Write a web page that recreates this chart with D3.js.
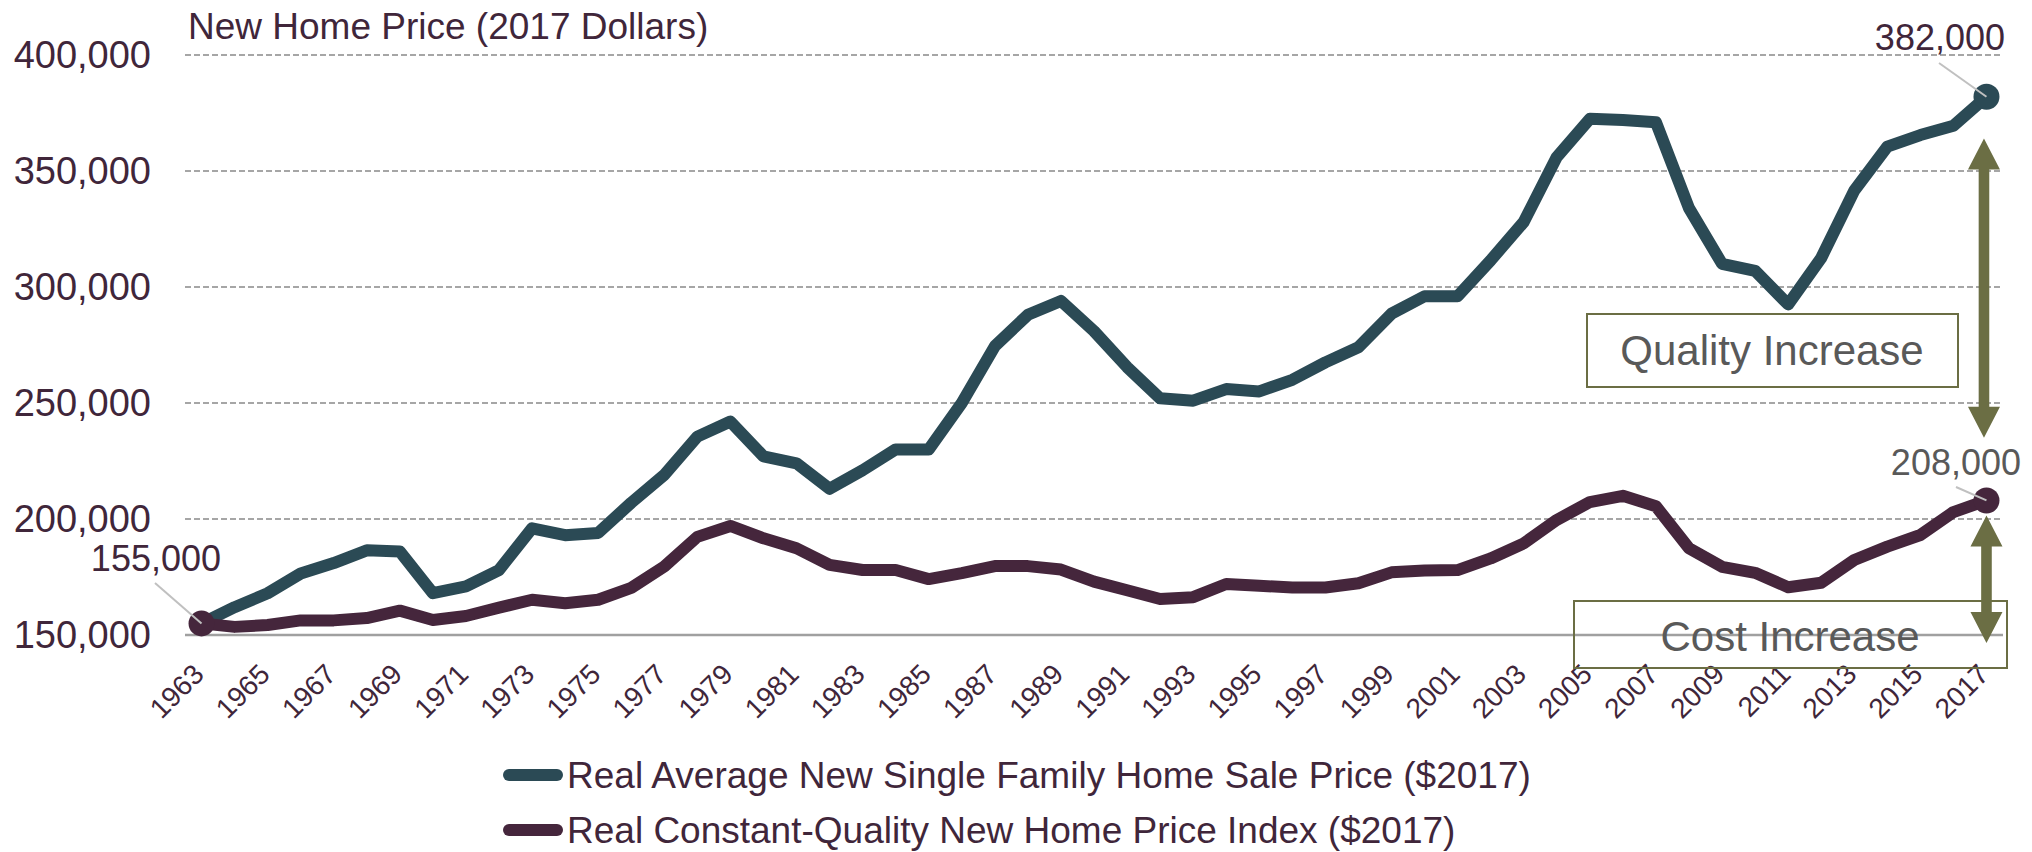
<!DOCTYPE html>
<html>
<head>
<meta charset="utf-8">
<script src="https://cdn.jsdelivr.net/npm/d3@7"></script>
<style>
  html, body { margin: 0; padding: 0; background: #ffffff; }
  svg { display: block; font-family: "Liberation Sans", Arial, sans-serif; }
</style>
</head>
<body>
<svg id="chart" width="2032" height="852"></svg>
<script>
// ---------------- DATA ----------------
const years = [
  "1963","1964","1965","1966","1967","1968","1969","1970","1971","1972",
  "1973","1974","1975","1976","1977","1978","1979","1980","1981","1982",
  "1983","1984","1985","1986","1987","1988","1989","1990","1991","1992",
  "1993","1994","1995","1996","1997","1998","1999","2000","2001","2002",
  "2003","2004","2005","2006","2007","2008","2009","2010","2011","2012",
  "2013","2014","2015","2016","2017"
];
const avgSalePrice = [
  155000,162000,168000,176500,181000,186500,186000,168000,171000,178000,
  196000,193000,194000,207000,219000,235500,242000,227000,224000,213000,
  221000,230000,230000,250000,274500,288000,294000,281000,265500,252000,
  251000,256000,255000,260000,267500,274000,288500,296000,296000,311500,
  328000,356000,372500,372000,371000,334000,310000,307000,292500,312500,
  341500,360500,365500,369500,382000
];
const constQualityIndex = [
  155000,153500,154300,156300,156300,157300,160500,156500,158200,161800,
  165200,163700,165200,170300,179500,192300,197000,191700,187400,180200,
  178000,178000,174100,176700,179700,179700,178200,173000,169300,165500,
  166300,172000,171200,170500,170500,172300,177000,177800,178000,183000,
  189500,199600,207300,210000,205500,187400,179400,176800,170600,172500,
  182300,188100,193100,203000,208000
];
const yTicks = [150000, 200000, 250000, 300000, 350000, 400000];
const seriesNames = [
  "Real Average New Single Family Home Sale Price ($2017)",
  "Real Constant-Quality New Home Price Index ($2017)"
];
const titleText = "New Home Price (2017 Dollars)";
const qualityArrow = [364000, 235000];
const costArrow = [201500, 146500];

// ---------------- STYLE ----------------
const TEAL = "#2B4A55", PURPLE = "#45263C", TEXT = "#40263A",
      GRAYTXT = "#595959", OLIVE = "#6B6E44", GRID = "#a6a6a6";

const svg = d3.select("#chart");
const x = d3.scaleBand().domain(years).range([185, 2003]).padding(0);
const cx = d => x(d) + x.bandwidth() / 2;
const y = d3.scaleLinear().domain([150000, 400000]).range([635, 55]);

// gridlines
svg.append("g").selectAll("line").data(yTicks.filter(t => t > 150000)).join("line")
  .attr("x1", 185).attr("x2", 2003)
  .attr("y1", d => y(d)).attr("y2", d => y(d))
  .attr("stroke", GRID).attr("stroke-width", 2).attr("stroke-dasharray", "6,3");

// y axis labels
const yAxis = d3.axisLeft(y).tickValues(yTicks).tickSize(0).tickPadding(0)
  .tickFormat(d3.format(","));
const yg = svg.append("g").attr("transform", "translate(151,0)").call(yAxis);
yg.select(".domain").remove();
yg.selectAll("text").attr("font-size", 38).attr("fill", TEXT)
  .attr("font-family", "Liberation Sans, Arial, sans-serif");

// x axis line + labels
svg.append("line").attr("x1", 185).attr("x2", 2003)
  .attr("y1", y(150000)).attr("y2", y(150000))
  .attr("stroke", "#a0a0a0").attr("stroke-width", 2.5);

svg.append("g").selectAll("text").data(years.filter((d, i) => i % 2 === 0)).join("text")
  .attr("transform", d => `translate(${cx(d) + 4},676) rotate(-45)`)
  .attr("text-anchor", "end")
  .attr("font-size", 28).attr("fill", TEXT)
  .text(d => d);

// title
svg.append("text").attr("x", 188).attr("y", 39).attr("font-size", 37)
  .attr("fill", TEXT).text(titleText);

// lines
const line = d3.line().x((d, i) => cx(years[i])).y(d => y(d));
svg.append("path").datum(avgSalePrice).attr("d", line)
  .attr("fill", "none").attr("stroke", TEAL).attr("stroke-width", 12)
  .attr("stroke-linejoin", "round");
svg.append("path").datum(constQualityIndex).attr("d", line)
  .attr("fill", "none").attr("stroke", PURPLE).attr("stroke-width", 12)
  .attr("stroke-linejoin", "round");

// end markers
const last = years.length - 1;
svg.append("circle").attr("cx", cx(years[last])).attr("cy", y(avgSalePrice[last]))
  .attr("r", 13).attr("fill", TEAL);
svg.append("circle").attr("cx", cx(years[0])).attr("cy", y(constQualityIndex[0]))
  .attr("r", 13).attr("fill", PURPLE);
svg.append("circle").attr("cx", cx(years[last])).attr("cy", y(constQualityIndex[last]))
  .attr("r", 13).attr("fill", PURPLE);

// value labels with leader lines
const fmt = d3.format(",");
function valueLabel(px, py, lx1, ly1, tx, ty, txt, color) {
  svg.append("line").attr("x1", lx1).attr("y1", ly1).attr("x2", px).attr("y2", py)
    .attr("stroke", "#c0c0c0").attr("stroke-width", 2);
  svg.append("text").attr("x", tx).attr("y", ty).attr("text-anchor", "end")
    .attr("font-size", 36).attr("fill", color).text(txt);
}
valueLabel(cx(years[0]), y(constQualityIndex[0]), 155, 583, 221, 571,
  fmt(constQualityIndex[0]), TEXT);
valueLabel(cx(years[last]), y(avgSalePrice[last]), 1939, 63, 2005, 50,
  fmt(avgSalePrice[last]), TEXT);
valueLabel(cx(years[last]), y(constQualityIndex[last]), 1956, 487, 2021, 475,
  fmt(constQualityIndex[last]), GRAYTXT);

// boxes
svg.append("rect").attr("x", 1587).attr("y", 314).attr("width", 371).attr("height", 73)
  .attr("fill", "none").attr("stroke", OLIVE).attr("stroke-width", 2);
svg.append("text").attr("x", 1772).attr("y", 365).attr("text-anchor", "middle")
  .attr("font-size", 42).attr("fill", GRAYTXT).text("Quality Increase");
svg.append("rect").attr("x", 1574).attr("y", 601).attr("width", 433).attr("height", 67)
  .attr("fill", "none").attr("stroke", OLIVE).attr("stroke-width", 2);
svg.append("text").attr("x", 1790).attr("y", 651).attr("text-anchor", "middle")
  .attr("font-size", 42).attr("fill", GRAYTXT).text("Cost Increase");

// double arrows
function dblArrow(ax, yTop, yBot) {
  const hw = 16, hl = 31, sw = 5.3;
  const p = [
    [ax, yTop], [ax + hw, yTop + hl], [ax + sw, yTop + hl], [ax + sw, yBot - hl],
    [ax + hw, yBot - hl], [ax, yBot], [ax - hw, yBot - hl], [ax - sw, yBot - hl],
    [ax - sw, yTop + hl], [ax - hw, yTop + hl]
  ];
  svg.append("path").attr("d", "M" + p.map(q => q.join(",")).join("L") + "Z")
    .attr("fill", OLIVE);
}
dblArrow(cx(years[last]) - 2.5, y(qualityArrow[0]), y(qualityArrow[1]));
dblArrow(cx(years[last]), y(costArrow[0]), y(costArrow[1]));

// legend
const legendY = [775, 830];
const legendColors = [TEAL, PURPLE];
seriesNames.forEach((name, i) => {
  svg.append("line").attr("x1", 509).attr("x2", 557)
    .attr("y1", legendY[i]).attr("y2", legendY[i])
    .attr("stroke", legendColors[i]).attr("stroke-width", 12).attr("stroke-linecap", "round");
  svg.append("text").attr("x", 567).attr("y", legendY[i]).attr("dy", "0.35em")
    .attr("font-size", 37).attr("fill", TEXT).text(name);
});
</script>
</body>
</html>
